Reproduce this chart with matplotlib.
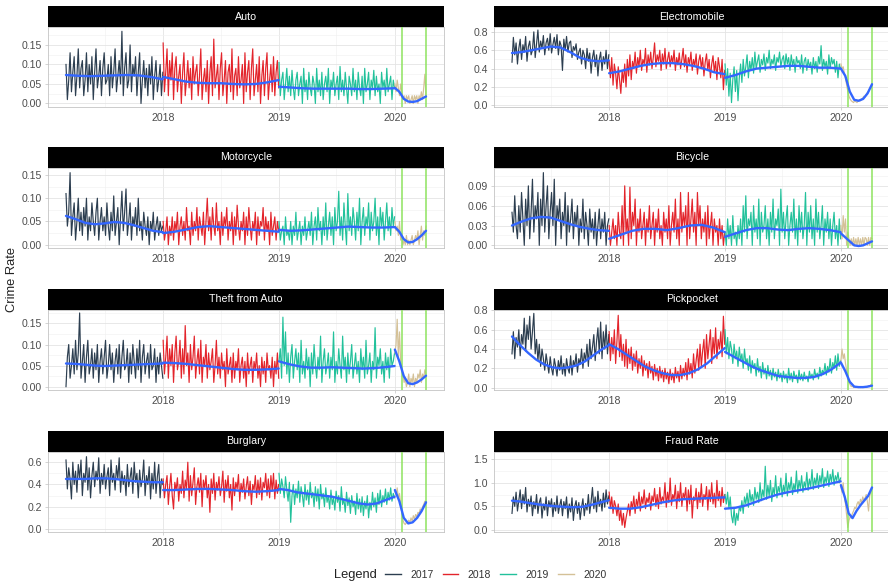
import numpy as np
import pandas as pd
import matplotlib
matplotlib.use("Agg")
import matplotlib.pyplot as plt
import matplotlib.dates as mdates
from matplotlib.lines import Line2D
from matplotlib.ticker import FixedLocator, FormatStrFormatter, AutoMinorLocator

plt.rcParams['font.family'] = ['Liberation Sans', 'DejaVu Sans']

# ---------------- data ----------------
years = ["2017", "2018", "2019", "2020"]
year_colors = ["#2c3e50", "#e3242b", "#22c19b", "#d4c197"]
span_start = ["2017-03-01", "2018-01-01", "2019-01-01", "2020-01-01"]
span_end = ["2017-12-31", "2018-12-31", "2019-12-31", "2020-04-08"]
lockdown_dates = ["2020-01-23", "2020-04-08"]

titles = ["Auto", "Electromobile", "Motorcycle", "Bicycle",
          "Theft from Auto", "Pickpocket", "Burglary", "Fraud Rate"]

# --- Auto ---
auto_2017 = [0.10,0.01,0.06,0.13,0.03,0.08,0.12,0.02,0.07,0.14,0.04,0.09,0.11,0.02,0.06,0.13,0.03,0.10,0.05,0.12,0.01,0.08,0.14,0.04,0.07,0.11,0.02,0.09,0.13,0.05,0.06,0.10,0.02,0.12,0.04,0.08,0.14,0.03,0.07,0.11,0.05,0.185,0.02,0.09,0.13,0.04,0.06,0.15,0.03,0.10,0.07,0.12,0.02,0.08,0.13,0.00,0.06,0.11,0.04,0.09,0.02,0.10,0.05,0.12,0.01,0.07,0.11,0.03,0.06,0.10,0.02,0.08]
auto_2018 = [0.155,0.03,0.08,0.14,0.02,0.11,0.06,0.13,0.01,0.09,0.12,0.03,0.07,0.10,0.00,0.08,0.13,0.02,0.06,0.11,0.04,0.09,0.01,0.12,0.05,0.08,0.10,0.02,0.07,0.14,0.01,0.06,0.09,0.03,0.11,0.00,0.08,0.12,0.02,0.165,0.04,0.07,0.10,0.01,0.09,0.13,0.02,0.06,0.11,0.00,0.08,0.10,0.03,0.14,0.01,0.07,0.09,0.02,0.12,0.04,0.06,0.10,0.00,0.13,0.03,0.08,0.11,0.01,0.09,0.14,0.02,0.06,0.10,0.03,0.12,0.00,0.07,0.11,0.02,0.09,0.13,0.01,0.06,0.10,0.03,0.12,0.02,0.08,0.11,0.04]
auto_2019 = [0.105,0.02,0.06,0.08,0.01,0.05,0.09,0.03,0.07,0.02,0.085,0.04,0.01,0.06,0.08,0.02,0.05,0.07,0.00,0.09,0.03,0.06,0.01,0.08,0.04,0.02,0.07,0.05,0.00,0.09,0.03,0.06,0.02,0.08,0.01,0.05,0.07,0.03,0.09,0.00,0.06,0.04,0.08,0.02,0.05,0.07,0.01,0.095,0.03,0.06,0.02,0.08,0.04,0.00,0.07,0.05,0.02,0.09,0.03,0.06,0.01,0.08,0.04,0.02,0.07,0.00,0.09,0.03,0.05,0.08,0.01,0.06,0.04,0.085,0.02,0.07,0.03,0.05,0.00,0.08,0.04,0.06,0.02,0.09,0.03,0.05,0.07,0.01,0.06,0.04]
auto_2020 = [0.05,0.03,0.06,0.04,0.02,0.05,0.03,0.01,0.02,0.00,0.02,0.01,0.02,0.00,0.01,0.02,0.00,0.02,0.01,0.02,0.00,0.02,0.01,0.03,0.01,0.04,0.075,0.02]
auto_smooth_2017 = [0.073,0.071,0.070,0.071,0.072,0.073,0.072,0.068,0.062]
auto_smooth_2018 = [0.068,0.062,0.056,0.053,0.052,0.052,0.050,0.049,0.050,0.054,0.060]
auto_smooth_2019 = [0.043,0.041,0.039,0.038,0.038,0.038,0.038,0.037,0.037,0.038,0.039]
auto_smooth_2020 = [0.040,0.030,0.012,0.005,0.004,0.006,0.012,0.018]

# --- Electromobile ---
em_2017 = [0.47,0.74,0.55,0.68,0.45,0.62,0.72,0.50,0.66,0.58,0.75,0.48,0.64,0.70,0.55,0.60,0.80,0.52,0.67,0.82,0.58,0.70,0.62,0.76,0.55,0.68,0.73,0.60,0.78,0.57,0.66,0.74,0.62,0.77,0.55,0.70,0.65,0.38,0.72,0.60,0.75,0.58,0.68,0.70,0.52,0.64,0.60,0.67,0.50,0.58,0.62,0.45,0.60,0.55,0.40,0.62,0.48,0.57,0.35,0.52,0.60,0.42,0.55,0.32,0.50,0.58,0.38,0.53,0.45,0.60,0.40,0.55]
em_2018 = [0.48,0.30,0.52,0.22,0.45,0.35,0.18,0.42,0.28,0.13,0.38,0.25,0.45,0.20,0.50,0.32,0.55,0.28,0.48,0.40,0.58,0.35,0.52,0.42,0.60,0.38,0.50,0.45,0.62,0.36,0.55,0.44,0.58,0.40,0.52,0.68,0.42,0.55,0.48,0.60,0.38,0.56,0.45,0.62,0.40,0.50,0.58,0.42,0.54,0.46,0.60,0.38,0.52,0.44,0.57,0.40,0.50,0.62,0.42,0.55,0.36,0.52,0.45,0.58,0.38,0.50,0.43,0.56,0.34,0.48,0.55,0.40,0.52,0.32,0.47,0.56,0.38,0.50,0.30,0.45,0.54,0.36,0.48,0.28,0.52,0.42,0.30,0.50,0.17,0.38]
em_2019 = [0.45,0.22,0.40,0.10,0.35,0.03,0.28,0.42,0.15,0.38,0.05,0.30,0.45,0.25,0.50,0.32,0.42,0.55,0.30,0.48,0.38,0.52,0.35,0.58,0.40,0.48,0.55,0.36,0.50,0.44,0.56,0.38,0.52,0.46,0.60,0.40,0.50,0.45,0.55,0.38,0.52,0.47,0.58,0.42,0.50,0.54,0.40,0.56,0.45,0.52,0.38,0.55,0.44,0.50,0.36,0.53,0.46,0.49,0.40,0.55,0.35,0.48,0.52,0.38,0.50,0.42,0.47,0.34,0.52,0.40,0.48,0.36,0.53,0.45,0.65,0.38,0.50,0.42,0.48,0.34,0.55,0.40,0.52,0.45,0.50,0.36,0.48,0.30,0.45,0.40]
em_2020 = [0.45,0.40,0.42,0.35,0.30,0.22,0.15,0.10,0.07,0.05,0.04,0.03,0.05,0.04,0.03,0.05,0.06,0.05,0.07,0.08,0.10,0.09,0.12,0.14,0.15,0.18,0.20,0.22]
em_smooth_2017 = [0.57,0.58,0.60,0.62,0.64,0.63,0.58,0.52,0.49,0.48,0.49]
em_smooth_2018 = [0.35,0.37,0.40,0.43,0.45,0.46,0.46,0.45,0.43,0.40,0.36,0.34]
em_smooth_2019 = [0.30,0.33,0.37,0.40,0.41,0.42,0.43,0.43,0.42,0.41,0.41,0.40]
em_smooth_2020 = [0.40,0.32,0.15,0.06,0.05,0.07,0.13,0.23]

# --- Motorcycle ---
mc_2017 = [0.11,0.04,0.07,0.155,0.02,0.06,0.09,0.01,0.05,0.10,0.03,0.07,0.02,0.08,0.04,0.10,0.01,0.06,0.03,0.09,0.05,0.02,0.07,0.10,0.01,0.05,0.08,0.03,0.06,0.02,0.09,0.04,0.01,0.07,0.03,0.105,0.02,0.05,0.08,0.00,0.06,0.115,0.03,0.07,0.12,0.02,0.05,0.09,0.01,0.06,0.04,0.08,0.02,0.10,0.03,0.05,0.01,0.07,0.04,0.02,0.06,0.00,0.05,0.03,0.07,0.01,0.04,0.06,0.02,0.05,0.03,0.04]
mc_2018 = [0.05,0.01,0.03,0.06,0.00,0.04,0.02,0.06,0.01,0.05,0.03,0.07,0.00,0.04,0.06,0.02,0.05,0.01,0.08,0.03,0.04,0.00,0.07,0.02,0.05,0.03,0.08,0.01,0.06,0.04,0.02,0.07,0.00,0.05,0.10,0.03,0.06,0.01,0.08,0.04,0.02,0.09,0.03,0.05,0.00,0.07,0.02,0.06,0.04,0.08,0.01,0.05,0.03,0.07,0.00,0.06,0.02,0.085,0.04,0.01,0.05,0.03,0.07,0.00,0.06,0.02,0.08,0.04,0.01,0.05,0.03,0.07,0.00,0.06,0.02,0.05,0.04,0.08,0.01,0.06,0.03,0.05,0.00,0.07,0.02,0.04,0.06,0.01,0.05,0.03]
mc_2019 = [0.05,0.01,0.03,0.04,0.00,0.06,0.02,0.03,0.01,0.05,0.00,0.04,0.02,0.07,0.01,0.03,0.05,0.00,0.04,0.02,0.06,0.01,0.03,0.05,0.02,0.07,0.00,0.04,0.06,0.01,0.08,0.03,0.05,0.00,0.06,0.02,0.09,0.01,0.04,0.07,0.02,0.06,0.00,0.08,0.03,0.05,0.115,0.02,0.06,0.01,0.09,0.04,0.00,0.11,0.03,0.06,0.02,0.08,0.05,0.01,0.07,0.03,0.10,0.00,0.05,0.08,0.02,0.06,0.04,0.09,0.01,0.07,0.03,0.05,0.10,0.02,0.06,0.00,0.08,0.04,0.07,0.01,0.05,0.09,0.03,0.06,0.02,0.08,0.04,0.06]
mc_2020 = [0.05,0.03,0.04,0.02,0.05,0.01,0.02,0.00,0.01,0.00,0.02,0.00,0.01,0.00,0.01,0.02,0.00,0.01,0.02,0.01,0.03,0.00,0.02,0.04,0.01,0.03,0.02,0.04]
mc_smooth_2017 = [0.062,0.055,0.047,0.044,0.046,0.049,0.047,0.042,0.036,0.030,0.027]
mc_smooth_2018 = [0.025,0.028,0.033,0.038,0.040,0.038,0.036,0.034,0.032,0.030,0.028]
mc_smooth_2019 = [0.032,0.030,0.031,0.033,0.035,0.037,0.039,0.038,0.037,0.037,0.038]
mc_smooth_2020 = [0.038,0.028,0.012,0.005,0.006,0.012,0.020,0.030]

# --- Bicycle ---
bc_2017 = [0.05,0.02,0.075,0.03,0.01,0.06,0.02,0.08,0.04,0.00,0.07,0.03,0.09,0.01,0.05,0.10,0.02,0.06,0.04,0.08,0.00,0.07,0.03,0.11,0.02,0.06,0.09,0.01,0.05,0.08,0.03,0.10,0.00,0.06,0.04,0.07,0.01,0.05,0.03,0.08,0.00,0.06,0.02,0.04,0.07,0.01,0.05,0.03,0.06,0.00,0.04,0.02,0.07,0.01,0.05,0.03,0.00,0.055,0.02,0.04,0.01,0.05,0.00,0.03,0.055,0.01,0.04,0.02,0.05,0.00,0.03,0.04]
bc_2018 = [0.03,0.00,0.02,0.04,0.01,0.03,0.00,0.05,0.02,0.01,0.06,0.00,0.09,0.02,0.04,0.00,0.088,0.01,0.05,0.03,0.07,0.00,0.04,0.02,0.055,0.01,0.03,0.05,0.00,0.04,0.02,0.06,0.01,0.03,0.05,0.00,0.04,0.02,0.055,0.01,0.03,0.00,0.05,0.02,0.04,0.01,0.06,0.00,0.03,0.05,0.02,0.07,0.01,0.04,0.00,0.08,0.02,0.05,0.03,0.06,0.00,0.08,0.01,0.04,0.07,0.02,0.05,0.00,0.08,0.03,0.06,0.01,0.04,0.02,0.05,0.00,0.06,0.01,0.03,0.05,0.00,0.04,0.02,0.03,0.00,0.04,0.01,0.03,0.00,0.02]
bc_2019 = [0.02,0.00,0.04,0.01,0.03,0.00,0.045,0.01,0.02,0.00,0.03,0.01,0.04,0.00,0.06,0.02,0.075,0.01,0.04,0.03,0.05,0.00,0.06,0.02,0.04,0.01,0.07,0.00,0.05,0.02,0.03,0.06,0.01,0.04,0.00,0.05,0.02,0.07,0.01,0.04,0.03,0.055,0.00,0.085,0.02,0.05,0.01,0.04,0.06,0.00,0.03,0.05,0.02,0.07,0.01,0.04,0.00,0.06,0.02,0.05,0.01,0.03,0.08,0.00,0.05,0.02,0.06,0.01,0.04,0.00,0.07,0.02,0.05,0.01,0.03,0.06,0.00,0.04,0.02,0.05,0.01,0.04,0.00,0.03,0.05,0.01,0.03,0.00,0.04,0.01]
bc_2020 = [0.03,0.01,0.045,0.02,0.04,0.00,0.02,0.01,0.00,0.01,0.00,0.012,0.00,0.01,0.00,0.012,0.00,0.01,0.00,0.012,0.00,0.012,0.01,0.00,0.012,0.00,0.012,0.01]
bc_smooth_2017 = [0.030,0.036,0.041,0.043,0.042,0.037,0.032,0.028,0.025,0.023,0.022]
bc_smooth_2018 = [0.010,0.016,0.022,0.025,0.025,0.023,0.026,0.030,0.031,0.027,0.020]
bc_smooth_2019 = [0.013,0.018,0.023,0.026,0.026,0.024,0.023,0.025,0.026,0.025,0.023,0.020]
bc_smooth_2020 = [0.018,0.012,0.006,0.000,-0.001,0.000,0.003,0.006]

# --- Theft from Auto ---
tfa_2017 = [0.00,0.07,0.10,0.02,0.05,0.09,0.03,0.11,0.04,0.08,0.175,0.02,0.06,0.10,0.01,0.07,0.11,0.03,0.05,0.09,0.02,0.08,0.04,0.10,0.01,0.06,0.09,0.03,0.07,0.11,0.02,0.05,0.10,0.04,0.08,0.01,0.06,0.09,0.03,0.10,0.02,0.07,0.11,0.04,0.05,0.09,0.01,0.08,0.03,0.10,0.06,0.02,0.09,0.04,0.11,0.01,0.07,0.10,0.03,0.06,0.08,0.02,0.10,0.04,0.05,0.09,0.01,0.07,0.03,0.08,0.05,0.02]
tfa_2018 = [0.11,0.03,0.07,0.12,0.02,0.09,0.05,0.10,0.01,0.08,0.12,0.04,0.06,0.11,0.02,0.09,0.03,0.145,0.05,0.08,0.01,0.10,0.04,0.07,0.12,0.02,0.06,0.09,0.03,0.11,0.01,0.07,0.05,0.10,0.02,0.08,0.04,0.06,0.09,0.01,0.05,0.11,0.03,0.07,0.02,0.08,0.04,0.06,0.00,0.09,0.03,0.05,0.07,0.01,0.08,0.02,0.06,0.04,0.09,0.01,0.05,0.07,0.02,0.06,0.00,0.08,0.03,0.05,0.07,0.01,0.06,0.04,0.08,0.02,0.05,0.00,0.07,0.03,0.06,0.01,0.08,0.04,0.05,0.02,0.07,0.00,0.06,0.03,0.08,0.02]
tfa_2019 = [0.06,0.09,0.02,0.165,0.05,0.13,0.03,0.08,0.01,0.07,0.10,0.02,0.06,0.09,0.04,0.08,0.01,0.11,0.03,0.06,0.02,0.09,0.04,0.07,0.00,0.08,0.03,0.10,0.05,0.02,0.07,0.04,0.12,0.01,0.06,0.09,0.03,0.05,0.08,0.02,0.07,0.04,0.13,0.01,0.06,0.03,0.09,0.05,0.02,0.12,0.04,0.07,0.01,0.08,0.03,0.06,0.10,0.02,0.05,0.08,0.03,0.06,0.01,0.09,0.04,0.07,0.02,0.11,0.03,0.05,0.08,0.01,0.06,0.04,0.14,0.02,0.07,0.05,0.09,0.03,0.06,0.01,0.08,0.04,0.07,0.02,0.09,0.05,0.06,0.08]
tfa_2020 = [0.08,0.10,0.16,0.07,0.13,0.06,0.04,0.03,0.01,0.02,0.00,0.01,0.03,0.00,0.02,0.01,0.03,0.00,0.02,0.01,0.03,0.02,0.04,0.01,0.03,0.02,0.04,0.03]
tfa_smooth_2017 = [0.055,0.054,0.052,0.050,0.049,0.050,0.051,0.052,0.053,0.054,0.055]
tfa_smooth_2018 = [0.057,0.056,0.054,0.051,0.048,0.045,0.042,0.040,0.040,0.041,0.043]
tfa_smooth_2019 = [0.060,0.053,0.048,0.045,0.045,0.046,0.045,0.044,0.043,0.044,0.046,0.049]
tfa_smooth_2020 = [0.088,0.060,0.025,0.008,0.006,0.010,0.017,0.026]

# --- Pickpocket ---
pp_2017 = [0.35,0.58,0.30,0.52,0.42,0.60,0.33,0.55,0.45,0.72,0.38,0.65,0.50,0.74,0.40,0.58,0.77,0.35,0.50,0.28,0.45,0.22,0.40,0.30,0.18,0.35,0.25,0.15,0.32,0.20,0.13,0.30,0.22,0.12,0.28,0.18,0.33,0.14,0.25,0.12,0.30,0.20,0.15,0.33,0.13,0.28,0.22,0.35,0.16,0.30,0.24,0.40,0.20,0.36,0.28,0.45,0.22,0.50,0.30,0.42,0.55,0.28,0.48,0.62,0.35,0.68,0.30,0.58,0.40,0.65,0.35,0.55]
pp_2018 = [0.58,0.28,0.52,0.35,0.60,0.25,0.48,0.75,0.32,0.55,0.28,0.45,0.22,0.50,0.20,0.40,0.25,0.42,0.18,0.35,0.22,0.38,0.15,0.30,0.20,0.33,0.12,0.28,0.18,0.25,0.10,0.27,0.15,0.22,0.08,0.24,0.12,0.20,0.07,0.22,0.10,0.18,0.06,0.20,0.09,0.16,0.04,0.19,0.08,0.15,0.05,0.21,0.10,0.17,0.06,0.23,0.09,0.20,0.12,0.26,0.08,0.30,0.14,0.25,0.10,0.35,0.15,0.28,0.40,0.18,0.45,0.22,0.38,0.50,0.20,0.55,0.30,0.45,0.60,0.25,0.52,0.35,0.62,0.30,0.50,0.40,0.58,0.32,0.74,0.45]
pp_2019 = [0.60,0.35,0.52,0.30,0.48,0.40,0.25,0.45,0.30,0.38,0.22,0.42,0.28,0.35,0.20,0.40,0.25,0.30,0.18,0.33,0.15,0.28,0.20,0.25,0.12,0.30,0.16,0.22,0.10,0.26,0.14,0.20,0.09,0.23,0.12,0.18,0.08,0.20,0.11,0.16,0.07,0.19,0.10,0.15,0.06,0.17,0.09,0.14,0.05,0.20,0.08,0.15,0.06,0.17,0.10,0.13,0.05,0.18,0.08,0.14,0.07,0.16,0.09,0.12,0.06,0.17,0.10,0.14,0.08,0.19,0.11,0.15,0.09,0.21,0.12,0.18,0.14,0.25,0.13,0.22,0.16,0.30,0.15,0.26,0.20,0.33,0.18,0.35,0.22,0.28]
pp_2020 = [0.28,0.40,0.30,0.35,0.25,0.18,0.12,0.06,0.03,0.01,0.02,0.00,0.01,0.00,0.01,0.00,0.01,0.00,0.01,0.00,0.01,0.01,0.00,0.01,0.02,0.01,0.03,0.04]
pp_smooth_2017 = [0.53,0.44,0.36,0.29,0.24,0.21,0.20,0.21,0.23,0.27,0.33,0.39,0.44]
pp_smooth_2018 = [0.45,0.40,0.34,0.28,0.22,0.18,0.15,0.13,0.13,0.15,0.19,0.25,0.33,0.41]
pp_smooth_2019 = [0.37,0.32,0.27,0.22,0.18,0.15,0.12,0.11,0.10,0.10,0.11,0.14,0.19,0.26]
pp_smooth_2020 = [0.26,0.17,0.06,0.01,0.005,0.005,0.01,0.02]

# --- Burglary ---
bg_2017 = [0.62,0.36,0.55,0.45,0.27,0.60,0.40,0.52,0.33,0.58,0.45,0.62,0.30,0.50,0.42,0.65,0.35,0.55,0.28,0.48,0.60,0.38,0.52,0.44,0.64,0.32,0.50,0.40,0.58,0.36,0.47,0.55,0.30,0.62,0.42,0.50,0.35,0.57,0.45,0.64,0.33,0.52,0.40,0.48,0.30,0.58,0.38,0.46,0.55,0.32,0.60,0.42,0.50,0.28,0.53,0.38,0.45,0.62,0.30,0.48,0.40,0.56,0.27,0.50,0.36,0.60,0.32,0.47,0.58,0.28,0.45,0.40]
bg_2018 = [0.45,0.28,0.40,0.48,0.22,0.38,0.50,0.30,0.18,0.42,0.35,0.46,0.25,0.40,0.32,0.52,0.28,0.44,0.36,0.60,0.25,0.48,0.30,0.42,0.55,0.22,0.38,0.46,0.33,0.50,0.20,0.44,0.36,0.48,0.28,0.40,0.15,0.45,0.32,0.50,0.26,0.42,0.35,0.47,0.30,0.38,0.52,0.24,0.44,0.34,0.48,0.28,0.40,0.17,0.46,0.30,0.42,0.36,0.49,0.25,0.41,0.33,0.45,0.27,0.38,0.47,0.30,0.43,0.22,0.40,0.35,0.48,0.28,0.44,0.31,0.46,0.26,0.42,0.37,0.50,0.30,0.45,0.28,0.48,0.34,0.50,0.27,0.44,0.32,0.40]
bg_2019 = [0.50,0.32,0.45,0.38,0.28,0.47,0.35,0.25,0.42,0.06,0.30,0.40,0.22,0.36,0.28,0.43,0.24,0.38,0.30,0.20,0.40,0.26,0.35,0.22,0.42,0.28,0.33,0.20,0.38,0.25,0.36,0.18,0.40,0.27,0.32,0.20,0.37,0.24,0.30,0.18,0.35,0.22,0.28,0.17,0.34,0.24,0.30,0.16,0.38,0.22,0.27,0.15,0.33,0.21,0.28,0.14,0.30,0.20,0.25,0.13,0.32,0.18,0.27,0.15,0.29,0.12,0.25,0.18,0.30,0.10,0.24,0.17,0.33,0.20,0.28,0.15,0.32,0.22,0.35,0.20,0.30,0.24,0.36,0.22,0.33,0.26,0.37,0.25,0.32,0.28]
bg_2020 = [0.35,0.30,0.37,0.28,0.32,0.22,0.15,0.08,0.05,0.04,0.06,0.05,0.08,0.06,0.10,0.07,0.12,0.09,0.13,0.11,0.15,0.14,0.18,0.16,0.20,0.22,0.25,0.23]
bg_smooth_2017 = [0.45,0.45,0.45,0.455,0.455,0.45,0.44,0.43,0.425,0.42,0.42]
bg_smooth_2018 = [0.35,0.35,0.355,0.36,0.36,0.355,0.35,0.34,0.335,0.34,0.35]
bg_smooth_2019 = [0.36,0.35,0.33,0.32,0.31,0.30,0.29,0.27,0.25,0.23,0.22,0.23,0.26,0.29]
bg_smooth_2020 = [0.35,0.25,0.10,0.05,0.06,0.10,0.16,0.24]

# --- Fraud Rate ---
fr_2017 = [0.35,0.70,0.50,0.80,0.40,0.62,0.85,0.45,0.75,0.55,0.90,0.38,0.65,0.50,0.72,0.30,0.60,0.45,0.75,0.35,0.58,0.68,0.25,0.55,0.42,0.70,0.30,0.62,0.48,0.66,0.28,0.58,0.40,0.72,0.35,0.52,0.65,0.30,0.60,0.45,0.70,0.25,0.55,0.38,0.68,0.20,0.50,0.62,0.35,0.58,0.22,0.48,0.66,0.30,0.56,0.42,0.75,0.35,0.60,0.90,0.45,0.70,0.38,0.82,0.50,0.65,0.40,0.78,0.48,0.85,0.55,0.72]
fr_2018 = [0.80,0.45,0.70,0.35,0.62,0.50,0.30,0.55,0.20,0.42,0.10,0.35,0.05,0.25,0.40,0.55,0.30,0.60,0.45,0.72,0.35,0.65,0.50,0.80,0.40,0.70,0.55,0.85,0.45,0.68,0.58,0.78,0.42,0.72,0.60,0.88,0.50,0.75,0.45,0.90,0.55,0.70,0.62,1.00,0.48,0.80,0.58,1.10,0.52,0.75,0.65,0.95,0.45,0.82,0.60,1.00,0.50,0.78,0.68,0.90,0.40,0.85,0.55,0.95,0.25,0.70,0.62,0.88,0.45,0.80,0.58,0.98,0.50,0.75,0.65,0.92,0.42,0.85,0.60,1.00,0.55,0.78,0.48,1.05,0.62,0.82,0.50,0.90,0.58,0.75]
fr_2019 = [0.75,0.55,0.80,0.45,0.70,0.30,0.15,0.45,0.10,0.35,0.20,0.50,0.40,0.62,0.35,0.70,0.55,0.78,0.48,0.85,0.60,0.75,0.52,0.90,0.65,0.80,0.58,1.00,0.62,0.85,0.70,1.35,0.65,0.95,0.72,1.05,0.60,0.90,0.75,1.15,0.68,0.92,0.80,1.10,0.70,0.95,0.78,1.20,0.72,1.00,0.85,1.12,0.75,0.98,0.82,1.25,0.78,1.05,0.88,1.15,0.80,1.02,0.90,1.22,0.84,1.08,0.92,1.28,0.86,1.10,0.95,1.20,0.88,1.15,0.98,1.30,0.90,1.12,1.00,1.25,0.92,1.18,1.02,1.28,0.95,1.15,1.05,1.22,1.00,1.10]
fr_2020 = [0.92,0.80,1.00,0.70,0.55,0.30,0.05,0.20,0.28,0.25,0.35,0.40,0.48,0.45,0.55,0.60,0.52,0.65,0.58,0.70,0.62,0.68,0.75,0.60,0.40,0.72,0.80,0.90]
fr_smooth_2017 = [0.62,0.60,0.57,0.54,0.52,0.50,0.49,0.48,0.49,0.53,0.58,0.63]
fr_smooth_2018 = [0.47,0.45,0.45,0.48,0.53,0.58,0.62,0.65,0.66,0.67,0.68,0.69]
fr_smooth_2019 = [0.45,0.47,0.52,0.60,0.68,0.75,0.80,0.84,0.88,0.93,0.98,1.03]
fr_smooth_2020 = [0.95,0.70,0.35,0.25,0.40,0.52,0.62,0.72,0.90]

# y axis ticks / limits per panel
yticks = [[0.00,0.05,0.10,0.15], [0.0,0.2,0.4,0.6,0.8], [0.00,0.05,0.10,0.15],
          [0.00,0.03,0.06,0.09], [0.00,0.05,0.10,0.15], [0.0,0.2,0.4,0.6,0.8],
          [0.0,0.2,0.4,0.6], [0.0,0.5,1.0,1.5]]
yfmt = ["%.2f", "%.1f", "%.2f", "%.2f", "%.2f", "%.1f", "%.1f", "%.1f"]
ylims = [(-0.009,0.196), (-0.018,0.853), (-0.007,0.165), (-0.004,0.117),
         (-0.008,0.182), (-0.025,0.805), (-0.027,0.692), (-0.045,1.653)]

series = [
    [auto_2017, auto_2018, auto_2019, auto_2020],
    [em_2017, em_2018, em_2019, em_2020],
    [mc_2017, mc_2018, mc_2019, mc_2020],
    [bc_2017, bc_2018, bc_2019, bc_2020],
    [tfa_2017, tfa_2018, tfa_2019, tfa_2020],
    [pp_2017, pp_2018, pp_2019, pp_2020],
    [bg_2017, bg_2018, bg_2019, bg_2020],
    [fr_2017, fr_2018, fr_2019, fr_2020],
]
smooths = [
    [auto_smooth_2017, auto_smooth_2018, auto_smooth_2019, auto_smooth_2020],
    [em_smooth_2017, em_smooth_2018, em_smooth_2019, em_smooth_2020],
    [mc_smooth_2017, mc_smooth_2018, mc_smooth_2019, mc_smooth_2020],
    [bc_smooth_2017, bc_smooth_2018, bc_smooth_2019, bc_smooth_2020],
    [tfa_smooth_2017, tfa_smooth_2018, tfa_smooth_2019, tfa_smooth_2020],
    [pp_smooth_2017, pp_smooth_2018, pp_smooth_2019, pp_smooth_2020],
    [bg_smooth_2017, bg_smooth_2018, bg_smooth_2019, bg_smooth_2020],
    [fr_smooth_2017, fr_smooth_2018, fr_smooth_2019, fr_smooth_2020],
]

# ---------------- layout ----------------
W, H = 888, 584
fig = plt.figure(figsize=(W / 100, H / 100), dpi=100)
fig.patch.set_facecolor("white")

col_x = [48, 494]
row_top = [6, 147, 289, 431]
strip_h, plot_h, plot_w = 21, 80, 396


def box(x, y, w, h):
    return [x / W, 1 - (y + h) / H, w / W, h / H]


t0 = mdates.date2num(pd.Timestamp(span_start[0]))
t1 = mdates.date2num(pd.Timestamp(span_end[-1]))
pad = 0.05 * (t1 - t0)

tick_col = "#4d4d4d"
frame_col = "#c4c4c4"

for i, title in enumerate(titles):
    r, c = divmod(i, 2)
    x, y = col_x[c], row_top[r]
    ax = fig.add_axes(box(x, y + strip_h, plot_w, plot_h))
    sx = fig.add_axes(box(x, y, plot_w, strip_h))

    for k in range(4):
        vals = series[i][k]
        d = pd.date_range(span_start[k], span_end[k], periods=len(vals))
        ax.plot(d, vals, color=year_colors[k], lw=0.85, zorder=2)
    for ld in lockdown_dates:
        ax.axvline(pd.Timestamp(ld), color="#8ee35f", lw=1.1, zorder=3)
    for k in range(4):
        sm = smooths[i][k]
        d = pd.date_range(span_start[k], span_end[k], periods=len(sm))
        ax.plot(d, sm, color="#3366ff", lw=1.7, zorder=4,
                solid_capstyle="round", solid_joinstyle="round")

    ax.set_xlim(t0 - pad, t1 + pad)
    ax.set_ylim(*ylims[i])
    ax.xaxis.set_major_locator(mdates.YearLocator())
    ax.xaxis.set_major_formatter(mdates.DateFormatter("%Y"))
    ax.xaxis.set_minor_locator(mdates.MonthLocator(bymonth=7))
    ax.yaxis.set_major_locator(FixedLocator(yticks[i]))
    ax.yaxis.set_major_formatter(FormatStrFormatter(yfmt[i]))
    ax.yaxis.set_minor_locator(AutoMinorLocator(2))
    ax.grid(which="major", color="#e4e4e4", lw=0.6)
    ax.grid(which="minor", color="#f1f1f1", lw=0.45)
    ax.set_axisbelow(True)
    ax.tick_params(which="major", length=2.5, width=0.5, color=frame_col,
                   labelsize=7.6, labelcolor=tick_col, pad=2)
    ax.tick_params(which="minor", length=0)
    for s in ax.spines.values():
        s.set_color(frame_col)
        s.set_linewidth(0.6)

    sx.set_facecolor("black")
    sx.set_xticks([])
    sx.set_yticks([])
    for s in sx.spines.values():
        s.set_visible(False)
    sx.text(0.5, 0.5, title, color="white", ha="center", va="center",
            fontsize=7.7, transform=sx.transAxes)

fig.text(12 / W, 1 - 280 / H, "Crime Rate", rotation=90, ha="center",
         va="center", fontsize=9.3, color="#222222")

fig.text(334 / W, 1 - 575 / H, "Legend", ha="left", va="center",
         fontsize=9.3, color="#222222")
handles = [Line2D([], [], color=col, lw=1.0) for col in year_colors]
fig.legend(handles, years, loc="center left",
           bbox_to_anchor=(385 / W, 1 - 575 / H), ncol=4, frameon=False,
           fontsize=7.5, handlelength=1.5, handletextpad=0.9,
           columnspacing=0.9, borderpad=0, borderaxespad=0,
           labelcolor="#333333")

fig.savefig("out.png", dpi=100)
